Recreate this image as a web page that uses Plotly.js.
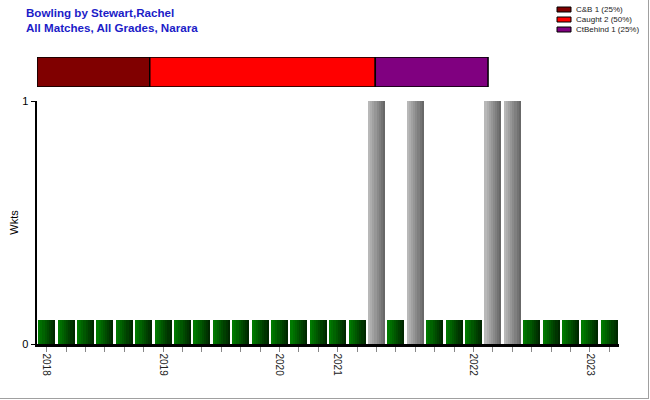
<!DOCTYPE html>
<html>
<head>
<meta charset="utf-8">
<script src="https://cdn.plot.ly/plotly-3.0.1.min.js"></script>
<style>
  html, body { margin: 0; padding: 0; background: #fff; }
  #wrap { position: relative; width: 650px; height: 400px; }
  #chart { width: 650px; height: 400px; }
  #frame { position: absolute; left: 0; top: 0; width: 648px; height: 398px;
           border-right: 1px solid #a0a0a0; border-bottom: 1px solid #a0a0a0; pointer-events: none; }
</style>
</head>
<body>
<div id="wrap"><div id="chart"></div><div id="frame"></div></div>
<script>
// ---- data ----
const titleLines = ["Bowling by Stewart,Rachel", "All Matches, All Grades, Narara"];
const wickets = [0,0,0,0,0,0, 0,0,0,0,0,0, 0,0,0, 0,0,1,0,1,0,0, 0,1,1,0,0,0, 0,0];
const matchYear = [2018,2018,2018,2018,2018,2018,
                   2019,2019,2019,2019,2019,2019,
                   2020,2020,2020,
                   2021,2021,2021,2021,2021,2021,2021,
                   2022,2022,2022,2022,2022,2022,
                   2023,2023];
const dismissalTypes = ["C&B", "Caught", "CtBehind"];
const dismissalCounts = [1, 2, 1];
const dismissalColors = ["#800000", "#FF0000", "#800080"];
const yTickVals = [0, 1];
const yTitle = "Wkts";

// ---- styling constants ----
const ZERO_STUB = 0.1;       // display height of a 0-wicket match
const BAR_W = 0.88;
const N_STRIPS = 8;
const greenL = [0, 122, 0], greenR = [0, 40, 0];
const grayL = [184, 184, 184], grayR = [104, 104, 104];
const PLOT_L = 37, PLOT_R = 619, PLOT_T = 57, PLOT_B = 344;
const TOPBAR_FRAC = 0.775;
const FONT = "Liberation Sans, Arial, sans-serif";

const matchNo = wickets.map((_, i) => i + 1);
const heights = wickets.map(w => w === 0 ? ZERO_STUB : w);
const tickText = matchYear.map((y, i) => (i === 0 || matchYear[i - 1] !== y) ? String(y) : "");

function mix(a, b, t) {
  return "rgb(" + a.map((v, i) => Math.round(v + (b[i] - v) * t)).join(",") + ")";
}

const traces = [];
for (let k = 0; k < N_STRIPS; k++) {
  const t = k / (N_STRIPS - 1);
  traces.push({
    type: "bar", x: matchNo, y: heights,
    width: BAR_W / N_STRIPS, offset: -BAR_W / 2 + k * BAR_W / N_STRIPS,
    marker: { color: wickets.map(w => w === 0 ? mix(greenL, greenR, t) : mix(grayL, grayR, t)),
              line: { width: 0 } },
    hoverinfo: "skip", showlegend: false
  });
}

const total = dismissalCounts.reduce((a, b) => a + b, 0);
let cum = 0;
dismissalTypes.forEach((name, i) => {
  traces.push({
    type: "bar", orientation: "h", xaxis: "x2", yaxis: "y2",
    y: [0], x: [dismissalCounts[i]], base: [cum], width: 1,
    marker: { color: dismissalColors[i], line: { color: "#000", width: 1.5 } },
    showlegend: false, hoverinfo: "skip"
  });
  cum += dismissalCounts[i];
});

// pixel -> paper helpers (layout only)
const px = v => (v - PLOT_L) / (PLOT_R - PLOT_L);
const py = v => (PLOT_B - v) / (PLOT_B - PLOT_T);

const shapes = [], annotations = [];
dismissalTypes.forEach((name, i) => {
  const cy = 9.5 + i * 10;
  shapes.push({ type: "rect", xref: "paper", yref: "paper",
    x0: px(557), x1: px(571), y0: py(cy + 2.5), y1: py(cy - 2.5),
    fillcolor: dismissalColors[i], line: { color: "#000", width: 1 } });
  const pct = Math.round(100 * dismissalCounts[i] / total);
  annotations.push({ xref: "paper", yref: "paper", x: px(574), y: py(cy),
    xanchor: "left", yanchor: "middle", showarrow: false,
    text: name + " " + dismissalCounts[i] + " (" + pct + "%)",
    font: { family: FONT, size: 8, color: "#222" } });
});
titleLines.forEach((line, i) => {
  annotations.push({ xref: "paper", yref: "paper", x: px(24), y: py(12.5 + i * 15),
    xanchor: "left", yanchor: "middle", showarrow: false, text: "<b>" + line + "</b>",
    font: { family: FONT, size: 11.6, color: "#1C1CC8" } });
});

const layout = {
  width: 650, height: 400,
  margin: { l: PLOT_L, r: 650 - PLOT_R, t: PLOT_T, b: 400 - PLOT_B, pad: 0 },
  paper_bgcolor: "#fff", plot_bgcolor: "#fff",
  barmode: "overlay", bargap: 0,
  font: { family: FONT, size: 11, color: "#000" },
  xaxis: { domain: [0, 1], range: [0.5, matchNo.length + 0.5],
           tickmode: "array", tickvals: matchNo, ticktext: tickText, tickangle: 90,
           ticks: "outside", ticklen: 5, tickcolor: "#888", tickwidth: 1,
           tickfont: { size: 10, color: "#222" },
           showline: true, linecolor: "#000", linewidth: 2.5, showgrid: false, zeroline: false },
  yaxis: { domain: [0, py(101)], range: [0, 1], tickmode: "array", tickvals: yTickVals,
           ticks: "outside", ticklen: 4, tickcolor: "#000", tickwidth: 1,
           tickfont: { size: 11, color: "#000" },
           showline: true, linecolor: "#000", linewidth: 2.5,
           showgrid: true, gridcolor: "#999", griddash: "dash", gridwidth: 1, zeroline: false,
           title: { text: yTitle, standoff: 2, font: { size: 11, color: "#000" } } },
  xaxis2: { domain: [0, 1], anchor: "y2", range: [0, total / TOPBAR_FRAC], visible: false, fixedrange: true },
  yaxis2: { domain: [py(87), 1], anchor: "x2", range: [-0.5, 0.5], visible: false, fixedrange: true },
  shapes: shapes, annotations: annotations, showlegend: false
};

Plotly.newPlot("chart", traces, layout, { staticPlot: true, displayModeBar: false });
</script>
</body>
</html>
